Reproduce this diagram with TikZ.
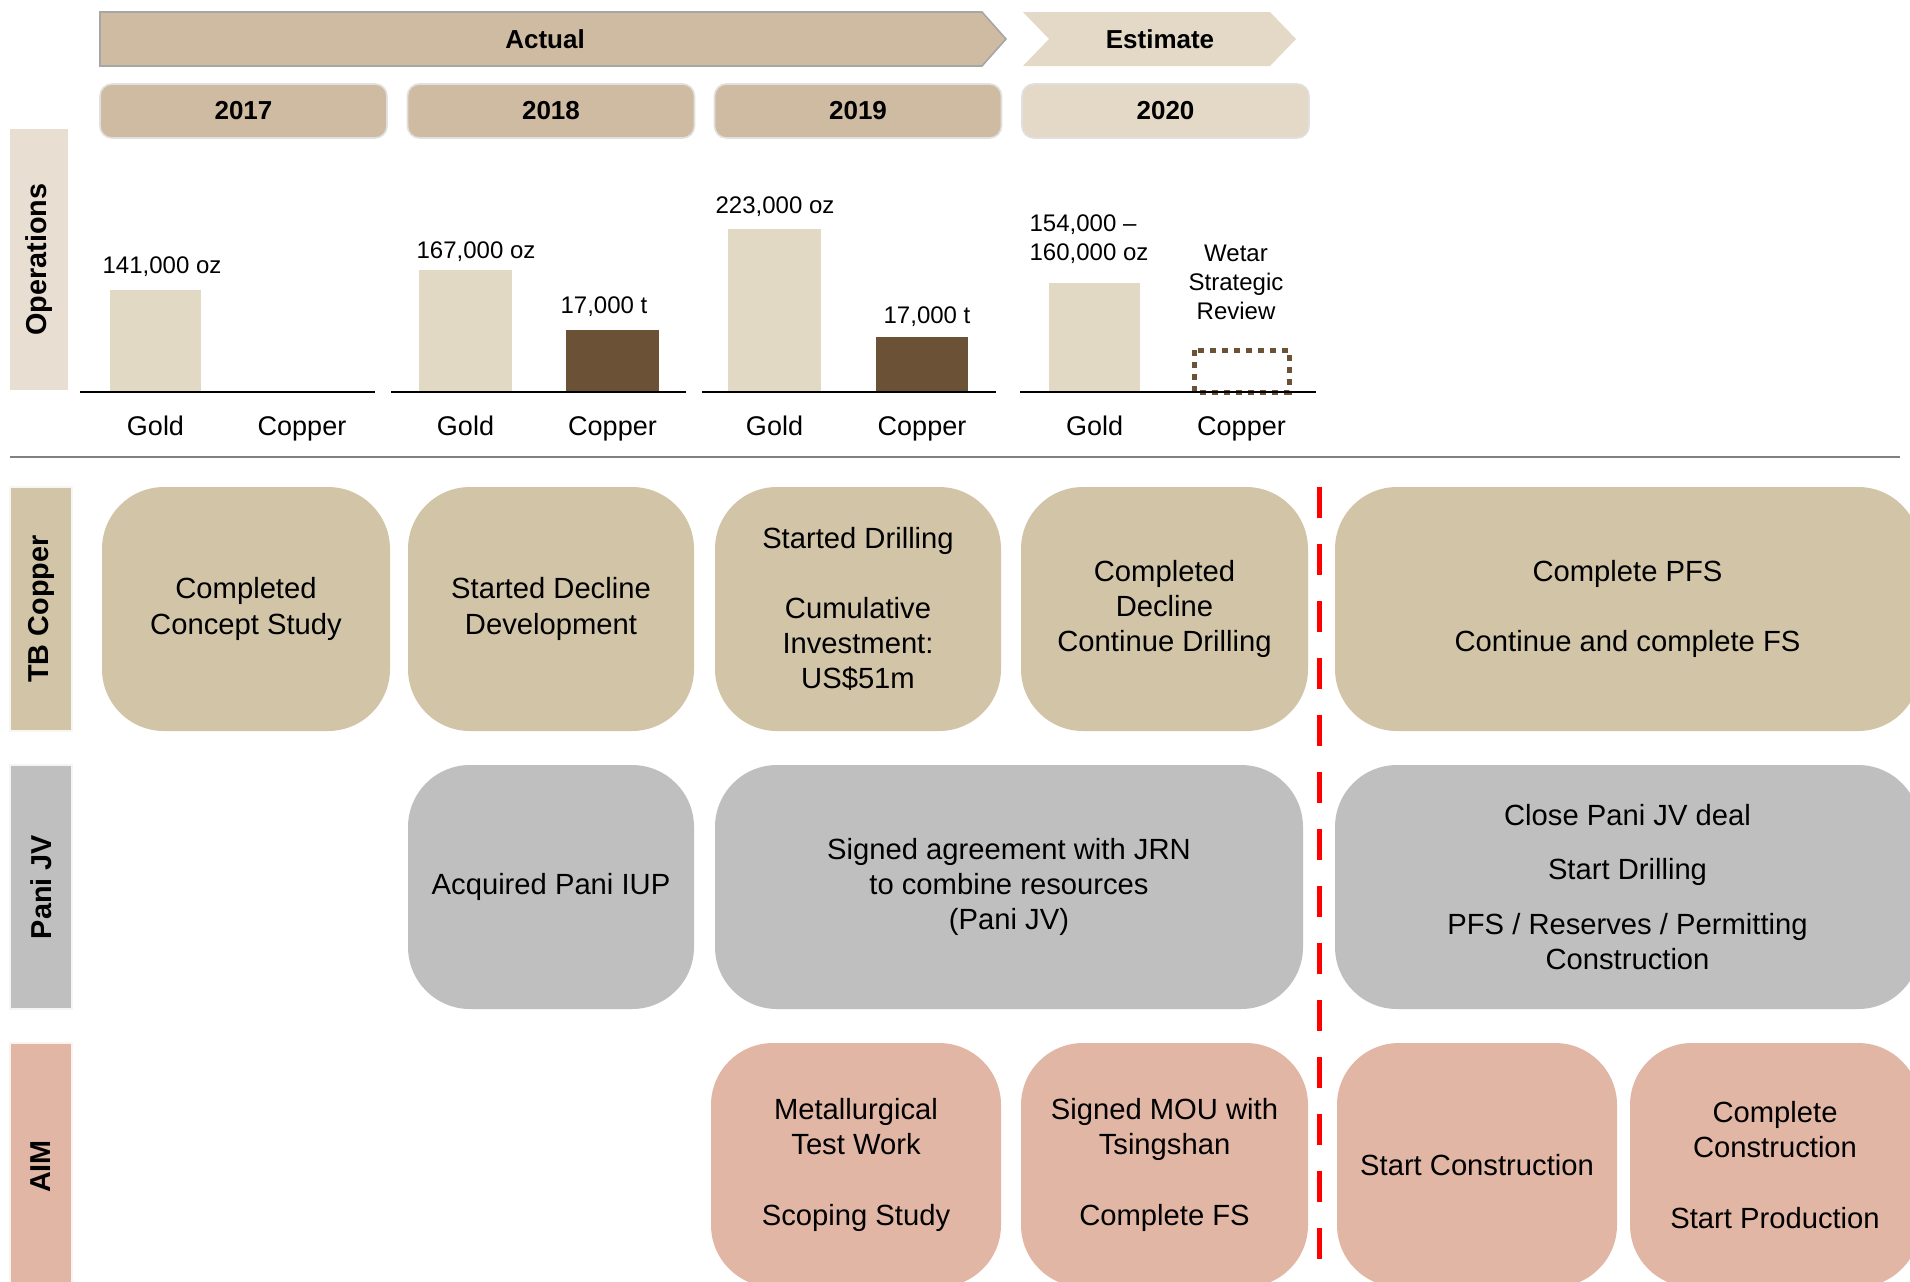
\documentclass[tikz,border=0pt]{standalone}
\usepackage{fontspec}
\setmainfont{Liberation Sans}
\definecolor{cTan}{HTML}{CFBBA1}
\definecolor{cEst}{HTML}{E3D9C6}
\definecolor{cOps}{HTML}{E8DED2}
\definecolor{cGold}{HTML}{E2D9C5}
\definecolor{cCopper}{HTML}{6B5236}
\definecolor{cTB}{HTML}{D1C4A7}
\definecolor{cPani}{HTML}{BFBFBF}
\definecolor{cAim}{HTML}{E1B6A4}
\definecolor{cEdge}{HTML}{A6A6A6}
\definecolor{cSep}{HTML}{808080}
\begin{document}
\begin{tikzpicture}[x=0.5pt,y=-0.5pt,
  box/.style={rectangle, rounded corners=31pt, align=center, inner sep=0pt,
    font=\fontsize{14.6}{17.6}\selectfont, minimum height=122pt},
  tbbox/.style={box, fill=cTB},
  pabox/.style={box, fill=cPani},
  aimbox/.style={box, fill=cAim},
  side/.style={rectangle, rotate=90, minimum width=122pt, minimum height=31pt,
    inner sep=0pt, font=\fontsize{14.4}{17}\selectfont\bfseries},
  yearbox/.style={rectangle, rounded corners=6pt, minimum width=143.5pt,
    minimum height=27pt, inner sep=0pt, draw=white!88!black, line width=0.8pt,
    font=\fontsize{13}{15}\selectfont\bfseries},
  hdr/.style={font=\fontsize{13}{15}\selectfont\bfseries},
  val/.style={font=\fontsize{12}{14.5}\selectfont, align=center, inner sep=0pt},
  axl/.style={font=\fontsize{13.5}{16}\selectfont, inner sep=0pt, anchor=base},
  gbar/.style={fill=cGold},
  cbar/.style={fill=cCopper},
  base/.style={line width=0.8pt, black}
]
\useasboundingbox (0,0) rectangle (1910,1281);
\clip (0,0) rectangle (1910,1281);
\fill[white] (0,0) rectangle (1910,1281);

% header chevrons
\draw[draw=cEdge, fill=cTan, line width=0.8pt] (100,12) -- (982,12) -- (1006,39) -- (982,66) -- (100,66) -- cycle;
\fill[cEst] (1023,12) -- (1270,12) -- (1296,39) -- (1270,66) -- (1023,66) -- (1049,39) -- cycle;
\node[hdr] (actual) at (545,39) {Actual};
\node[hdr] (estimate) at (1160,39) {Estimate};

% year boxes
\node[yearbox, fill=cTan] (y17) at (243.5,111) {2017};
\node[yearbox, fill=cTan] (y18) at (551,111) {2018};
\node[yearbox, fill=cTan] (y19) at (858,111) {2019};
\node[yearbox, fill=cEst] (y20) at (1165.5,111) {2020};

% side labels
\node[side, fill=cOps, minimum width=130.5pt, minimum height=29pt] (ops) at (39,259.5) {Operations};
\node[side, fill=cTB, draw=white!85!cTB, line width=1pt] (tbl) at (41,609) {TB Copper};
\node[side, fill=cPani, draw=white!85!cPani, line width=1pt] (pal) at (41,887) {Pani JV};
\node[side, fill=cAim, draw=white!85!cAim, line width=1pt, minimum width=123.5pt] (aiml) at (41,1166.5) {AIM};

% bars
\fill[gbar] (110,290) rectangle (201,392);
\fill[gbar] (419,270) rectangle (512,392);
\fill[cbar] (566,330) rectangle (659,392);
\fill[gbar] (728,229) rectangle (821,392);
\fill[cbar] (876,337) rectangle (968,392);
\fill[gbar] (1049,283) rectangle (1140,392);
\draw[cCopper, line width=2.5pt, dash pattern=on 3pt off 3pt] (1194,350) rectangle (1289,392);

% baselines
\draw[base] (80,392) -- (375,392);
\draw[base] (391,392) -- (686,392);
\draw[base] (702,392) -- (996,392);
\draw[base] (1020,392) -- (1316,392);

% value labels
\node[val] (v17g) at (162,266.5) {141,000 oz};
\node[val] (v18g) at (476,252) {167,000 oz};
\node[val] (v18c) at (604,307) {17,000 t};
\node[val] (v19g) at (775,207) {223,000 oz};
\node[val] (v19c) at (927,316.5) {17,000 t};
\node[val, align=left] (v20g) at (1089,239.5) {154,000 --\\160,000 oz};
\node[val] (v20c) at (1236,282.5) {Wetar\\Strategic\\Review};

% axis labels
\node[axl] (g17) at (155.5,435) {Gold};
\node[axl] (c17) at (302,435) {Copper};
\node[axl] (g18) at (465.5,435) {Gold};
\node[axl] (c18) at (612.5,435) {Copper};
\node[axl] (g19) at (774.5,435) {Gold};
\node[axl] (c19) at (922,435) {Copper};
\node[axl] (g20) at (1094.5,435) {Gold};
\node[axl] (c20) at (1241.5,435) {Copper};

% separator
\draw[cSep, line width=1pt] (10,457) -- (1900,457);

% TB Copper row
\node[tbbox, minimum width=144pt] (tb1) at (246,609) {Completed\\Concept Study};
\node[tbbox, minimum width=143pt] (tb2) at (551,609) {Started Decline\\Development};
\node[tbbox, minimum width=143pt] (tb3) at (858,609) {Started Drilling\\[17.6pt]Cumulative\\Investment:\\US\$51m};
\node[tbbox, minimum width=143.5pt] (tb4) at (1164.5,609) {Completed\\Decline\\Continue Drilling};
\node[tbbox, minimum width=292.5pt] (tb5) at (1627.5,609) {Complete PFS\\[17.6pt]Continue and complete FS};

% Pani JV row
\node[pabox, minimum width=143pt] (pa1) at (551,887) {Acquired Pani IUP};
\node[pabox, minimum width=294pt] (pa2) at (1009,887) {Signed agreement with JRN\\to combine resources\\(Pani JV)};
\node[pabox, minimum width=292.5pt] (pa3) at (1627.5,887) {Close Pani JV deal\\[9.8pt]Start Drilling\\[9.8pt]PFS / Reserves / Permitting\\Construction};

% AIM row
\node[aimbox, minimum width=145pt] (aim1) at (856,1165) {Metallurgical\\Test Work\\[17.6pt]Scoping Study};
\node[aimbox, minimum width=143.5pt] (aim2) at (1164.5,1165) {Signed MOU with\\Tsingshan\\[17.6pt]Complete FS};
\node[aimbox, minimum width=140pt] (aim3) at (1477,1165) {Start Construction};
\node[aimbox, minimum width=145pt] (aim4) at (1775,1165) {Complete\\Construction\\[17.6pt]Start Production};

% red dashed divider
\coordinate (dtop) at (1319,487);
\coordinate (dbot) at (1319,1290);
\draw[red, line width=2.5pt, dash pattern=on 15.5pt off 13pt] (dtop) -- (dbot);
\end{tikzpicture}
\end{document}
